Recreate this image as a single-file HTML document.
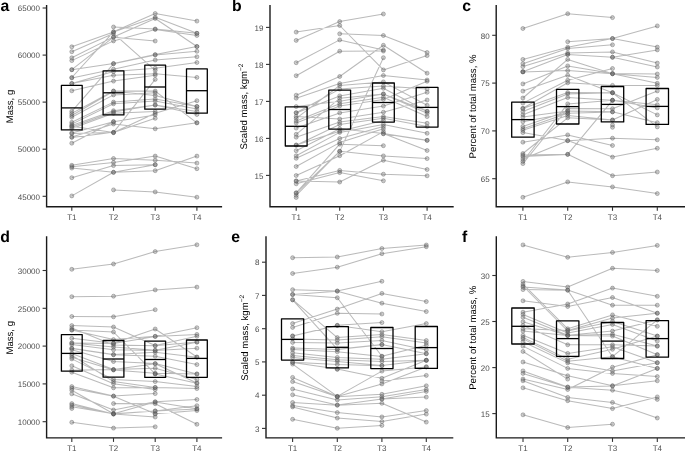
<!DOCTYPE html><html><head><meta charset="utf-8"><style>html,body{margin:0;padding:0;background:#fff;}svg{display:block;will-change:transform;}</style></head><body>
<svg width="685" height="451" viewBox="0 0 685 451" font-family="Liberation Sans, sans-serif" text-rendering="geometricPrecision">
<rect width="685" height="451" fill="#fff"/>
<path d="M71.8 46.8L113.5 32.0M71.8 51.7L113.5 33.4M71.8 57.8L113.5 36.9M71.8 60.6L113.5 40.9M71.8 69.7L113.5 37.2M71.8 69.7L113.5 63.5M71.8 77.5L113.5 31.8M71.8 77.9L113.5 69.2M71.8 83.4L113.5 71.6M71.8 83.6L113.5 75.3M71.8 90.8L113.5 81.1M71.8 111.3L113.5 63.8M71.8 113.4L113.5 91.0M71.8 115.5L113.5 91.2M71.8 117.2L113.5 94.9M71.8 122.3L113.5 102.1M71.8 124.1L113.5 103.8M71.8 125.6L113.5 110.7M71.8 127.1L113.5 111.9M71.8 128.5L113.5 113.3M71.8 132.9L113.5 121.7M71.8 137.0L113.5 124.0M71.8 137.4L113.5 132.3M71.8 143.2L113.5 121.7M71.8 126.3L113.5 132.6M71.8 133.5L113.5 132.6M71.8 165.3L113.5 158.5M71.8 166.7L113.5 162.4M71.8 168.1L113.5 172.3M71.8 177.7L113.5 165.6M71.8 195.9L113.5 172.3M113.5 27.0L155.2 29.0M113.5 31.8L155.2 13.5M113.5 32.0L155.2 17.2M113.5 33.4L155.2 70.3M113.5 36.9L155.2 18.5M113.5 37.2L155.2 41.0M113.5 40.9L155.2 29.4M113.5 63.5L155.2 54.6M113.5 63.8L155.2 55.0M113.5 69.2L155.2 60.0M113.5 71.6L155.2 68.3M113.5 75.3L155.2 73.8M113.5 81.1L155.2 75.2M113.5 91.0L155.2 91.1M113.5 91.2L155.2 95.5M113.5 94.9L155.2 92.8M113.5 102.1L155.2 98.9M113.5 103.8L155.2 101.1M113.5 110.7L155.2 105.0M113.5 111.9L155.2 105.0M113.5 113.3L155.2 111.6M113.5 121.7L155.2 114.9M113.5 124.0L155.2 128.8M113.5 132.3L155.2 79.4M113.5 132.6L155.2 113.3M113.5 132.6L155.2 118.3M113.5 158.5L155.2 160.2M113.5 162.4L155.2 156.1M113.5 165.6L155.2 164.7M113.5 172.3L155.2 164.7M113.5 172.3L155.2 170.7M113.5 189.9L155.2 191.9M155.2 13.5L196.9 21.1M155.2 17.2L196.9 33.3M155.2 18.5L196.9 46.5M155.2 29.0L196.9 33.3M155.2 29.4L196.9 35.5M155.2 54.6L196.9 46.5M155.2 55.0L196.9 51.3M155.2 60.0L196.9 56.8M155.2 68.3L196.9 62.5M155.2 73.8L196.9 77.4M155.2 91.1L196.9 122.8M155.2 95.5L196.9 106.5M155.2 98.9L196.9 106.5M155.2 101.1L196.9 109.0M155.2 105.0L196.9 111.5M155.2 105.0L196.9 114.5M155.2 113.3L196.9 100.7M155.2 128.8L196.9 122.8M155.2 156.1L196.9 168.7M155.2 160.2L196.9 163.1M155.2 170.7L196.9 156.1M155.2 191.9L196.9 197.2" fill="none" stroke="#666" stroke-opacity="0.45" stroke-width="1.05"/>
<g fill="#555" fill-opacity="0.3" stroke="#555" stroke-opacity="0.42" stroke-width="0.9"><circle cx="71.8" cy="46.8" r="2.0"/><circle cx="71.8" cy="51.7" r="2.0"/><circle cx="71.8" cy="57.8" r="2.0"/><circle cx="71.8" cy="60.6" r="2.0"/><circle cx="71.8" cy="69.7" r="2.0"/><circle cx="71.8" cy="69.7" r="2.0"/><circle cx="71.8" cy="77.5" r="2.0"/><circle cx="71.8" cy="77.9" r="2.0"/><circle cx="71.8" cy="83.4" r="2.0"/><circle cx="71.8" cy="83.6" r="2.0"/><circle cx="71.8" cy="90.8" r="2.0"/><circle cx="71.8" cy="111.3" r="2.0"/><circle cx="71.8" cy="113.4" r="2.0"/><circle cx="71.8" cy="115.5" r="2.0"/><circle cx="71.8" cy="117.2" r="2.0"/><circle cx="71.8" cy="122.3" r="2.0"/><circle cx="71.8" cy="124.1" r="2.0"/><circle cx="71.8" cy="125.6" r="2.0"/><circle cx="71.8" cy="126.3" r="2.0"/><circle cx="71.8" cy="127.1" r="2.0"/><circle cx="71.8" cy="128.5" r="2.0"/><circle cx="71.8" cy="132.9" r="2.0"/><circle cx="71.8" cy="133.5" r="2.0"/><circle cx="71.8" cy="137.0" r="2.0"/><circle cx="71.8" cy="137.4" r="2.0"/><circle cx="71.8" cy="143.2" r="2.0"/><circle cx="71.8" cy="165.3" r="2.0"/><circle cx="71.8" cy="166.7" r="2.0"/><circle cx="71.8" cy="168.1" r="2.0"/><circle cx="71.8" cy="177.7" r="2.0"/><circle cx="71.8" cy="195.9" r="2.0"/><circle cx="113.5" cy="27.0" r="2.0"/><circle cx="113.5" cy="31.8" r="2.0"/><circle cx="113.5" cy="32.0" r="2.0"/><circle cx="113.5" cy="33.4" r="2.0"/><circle cx="113.5" cy="36.9" r="2.0"/><circle cx="113.5" cy="37.2" r="2.0"/><circle cx="113.5" cy="40.9" r="2.0"/><circle cx="113.5" cy="63.5" r="2.0"/><circle cx="113.5" cy="63.8" r="2.0"/><circle cx="113.5" cy="69.2" r="2.0"/><circle cx="113.5" cy="71.6" r="2.0"/><circle cx="113.5" cy="75.3" r="2.0"/><circle cx="113.5" cy="81.1" r="2.0"/><circle cx="113.5" cy="91.0" r="2.0"/><circle cx="113.5" cy="91.2" r="2.0"/><circle cx="113.5" cy="94.9" r="2.0"/><circle cx="113.5" cy="102.1" r="2.0"/><circle cx="113.5" cy="103.8" r="2.0"/><circle cx="113.5" cy="110.7" r="2.0"/><circle cx="113.5" cy="111.9" r="2.0"/><circle cx="113.5" cy="113.3" r="2.0"/><circle cx="113.5" cy="121.7" r="2.0"/><circle cx="113.5" cy="121.7" r="2.0"/><circle cx="113.5" cy="124.0" r="2.0"/><circle cx="113.5" cy="132.3" r="2.0"/><circle cx="113.5" cy="132.6" r="2.0"/><circle cx="113.5" cy="132.6" r="2.0"/><circle cx="113.5" cy="158.5" r="2.0"/><circle cx="113.5" cy="162.4" r="2.0"/><circle cx="113.5" cy="165.6" r="2.0"/><circle cx="113.5" cy="172.3" r="2.0"/><circle cx="113.5" cy="172.3" r="2.0"/><circle cx="113.5" cy="189.9" r="2.0"/><circle cx="155.2" cy="13.5" r="2.0"/><circle cx="155.2" cy="17.2" r="2.0"/><circle cx="155.2" cy="18.5" r="2.0"/><circle cx="155.2" cy="29.0" r="2.0"/><circle cx="155.2" cy="29.4" r="2.0"/><circle cx="155.2" cy="41.0" r="2.0"/><circle cx="155.2" cy="54.6" r="2.0"/><circle cx="155.2" cy="55.0" r="2.0"/><circle cx="155.2" cy="60.0" r="2.0"/><circle cx="155.2" cy="68.3" r="2.0"/><circle cx="155.2" cy="70.3" r="2.0"/><circle cx="155.2" cy="73.8" r="2.0"/><circle cx="155.2" cy="75.2" r="2.0"/><circle cx="155.2" cy="79.4" r="2.0"/><circle cx="155.2" cy="91.1" r="2.0"/><circle cx="155.2" cy="92.8" r="2.0"/><circle cx="155.2" cy="95.5" r="2.0"/><circle cx="155.2" cy="98.9" r="2.0"/><circle cx="155.2" cy="101.1" r="2.0"/><circle cx="155.2" cy="105.0" r="2.0"/><circle cx="155.2" cy="105.0" r="2.0"/><circle cx="155.2" cy="111.6" r="2.0"/><circle cx="155.2" cy="113.3" r="2.0"/><circle cx="155.2" cy="114.9" r="2.0"/><circle cx="155.2" cy="118.3" r="2.0"/><circle cx="155.2" cy="128.8" r="2.0"/><circle cx="155.2" cy="156.1" r="2.0"/><circle cx="155.2" cy="160.2" r="2.0"/><circle cx="155.2" cy="164.7" r="2.0"/><circle cx="155.2" cy="164.7" r="2.0"/><circle cx="155.2" cy="170.7" r="2.0"/><circle cx="155.2" cy="191.9" r="2.0"/><circle cx="196.9" cy="21.1" r="2.0"/><circle cx="196.9" cy="33.3" r="2.0"/><circle cx="196.9" cy="33.3" r="2.0"/><circle cx="196.9" cy="35.5" r="2.0"/><circle cx="196.9" cy="46.5" r="2.0"/><circle cx="196.9" cy="46.5" r="2.0"/><circle cx="196.9" cy="51.3" r="2.0"/><circle cx="196.9" cy="56.8" r="2.0"/><circle cx="196.9" cy="62.5" r="2.0"/><circle cx="196.9" cy="77.4" r="2.0"/><circle cx="196.9" cy="100.7" r="2.0"/><circle cx="196.9" cy="106.5" r="2.0"/><circle cx="196.9" cy="106.5" r="2.0"/><circle cx="196.9" cy="109.0" r="2.0"/><circle cx="196.9" cy="111.5" r="2.0"/><circle cx="196.9" cy="114.5" r="2.0"/><circle cx="196.9" cy="122.8" r="2.0"/><circle cx="196.9" cy="122.8" r="2.0"/><circle cx="196.9" cy="156.1" r="2.0"/><circle cx="196.9" cy="163.1" r="2.0"/><circle cx="196.9" cy="168.7" r="2.0"/><circle cx="196.9" cy="197.2" r="2.0"/></g>
<rect x="61.4" y="85.4" width="20.8" height="44.5" fill="none" stroke="#000" stroke-width="1.3" stroke-linejoin="round"/>
<line x1="61.4" x2="82.2" y1="107.9" y2="107.9" stroke="#000" stroke-width="1.3"/>
<rect x="103.1" y="70.8" width="20.8" height="44.1" fill="none" stroke="#000" stroke-width="1.3" stroke-linejoin="round"/>
<line x1="103.1" x2="123.9" y1="92.8" y2="92.8" stroke="#000" stroke-width="1.3"/>
<rect x="144.8" y="65.2" width="20.8" height="44.0" fill="none" stroke="#000" stroke-width="1.3" stroke-linejoin="round"/>
<line x1="144.8" x2="165.6" y1="87.0" y2="87.0" stroke="#000" stroke-width="1.3"/>
<rect x="186.5" y="68.8" width="20.8" height="44.4" fill="none" stroke="#000" stroke-width="1.3" stroke-linejoin="round"/>
<line x1="186.5" x2="207.3" y1="90.7" y2="90.7" stroke="#000" stroke-width="1.3"/>
<path d="M46.6 5.6 V206.8 H221.4" fill="none" stroke="#1a1a1a" stroke-width="1.4" stroke-linecap="square" stroke-linejoin="miter"/>
<line x1="42.6" x2="46.6" y1="196.3" y2="196.3" stroke="#333" stroke-width="1.1"/>
<text x="40.0" y="199.5" font-size="8" fill="#4d4d4d" text-anchor="end">45000</text>
<line x1="42.6" x2="46.6" y1="149.2" y2="149.2" stroke="#333" stroke-width="1.1"/>
<text x="40.0" y="152.4" font-size="8" fill="#4d4d4d" text-anchor="end">50000</text>
<line x1="42.6" x2="46.6" y1="102.1" y2="102.1" stroke="#333" stroke-width="1.1"/>
<text x="40.0" y="105.3" font-size="8" fill="#4d4d4d" text-anchor="end">55000</text>
<line x1="42.6" x2="46.6" y1="55.1" y2="55.1" stroke="#333" stroke-width="1.1"/>
<text x="40.0" y="58.3" font-size="8" fill="#4d4d4d" text-anchor="end">60000</text>
<line x1="42.6" x2="46.6" y1="8.0" y2="8.0" stroke="#333" stroke-width="1.1"/>
<text x="40.0" y="11.2" font-size="8" fill="#4d4d4d" text-anchor="end">65000</text>
<line x1="71.8" x2="71.8" y1="206.8" y2="210.8" stroke="#333" stroke-width="1.1"/>
<text x="71.8" y="219.6" font-size="8" fill="#4d4d4d" text-anchor="middle">T1</text>
<line x1="113.5" x2="113.5" y1="206.8" y2="210.8" stroke="#333" stroke-width="1.1"/>
<text x="113.5" y="219.6" font-size="8" fill="#4d4d4d" text-anchor="middle">T2</text>
<line x1="155.2" x2="155.2" y1="206.8" y2="210.8" stroke="#333" stroke-width="1.1"/>
<text x="155.2" y="219.6" font-size="8" fill="#4d4d4d" text-anchor="middle">T3</text>
<line x1="196.9" x2="196.9" y1="206.8" y2="210.8" stroke="#333" stroke-width="1.1"/>
<text x="196.9" y="219.6" font-size="8" fill="#4d4d4d" text-anchor="middle">T4</text>
<text transform="translate(13.1,106.5) rotate(-90)" text-anchor="middle" font-size="9.6" fill="#000">Mass, g</text>
<text x="0.6" y="11.0" font-size="15.8" font-weight="bold" fill="#000">a</text>
<path d="M296.2 32.1L339.7 25.5M296.2 40.4L339.7 21.6M296.2 62.7L339.7 39.9M296.2 75.7L339.7 51.2M296.2 95.2L339.7 76.5M296.2 98.2L339.7 83.6M296.2 106.6L339.7 101.3M296.2 112.7L339.7 89.1M296.2 112.9L339.7 95.9M296.2 116.5L339.7 119.0M296.2 118.3L339.7 85.5M296.2 121.0L339.7 103.8M296.2 123.0L339.7 105.9M296.2 128.1L339.7 112.9M296.2 134.3L339.7 98.3M296.2 137.2L339.7 122.1M296.2 145.0L339.7 131.2M296.2 145.2L339.7 124.5M296.2 150.7L339.7 128.8M296.2 155.8L339.7 132.4M296.2 158.3L339.7 138.5M296.2 166.5L339.7 142.6M296.2 175.5L339.7 155.7M296.2 180.9L339.7 182.0M296.2 181.1L339.7 170.4M296.2 183.8L339.7 172.6M296.2 192.8L339.7 144.2M296.2 193.0L339.7 151.4M296.2 195.3L339.7 151.3M339.7 21.6L383.4 14.0M339.7 25.5L383.4 69.9M339.7 33.8L383.4 35.5M339.7 39.9L383.4 50.0M339.7 51.2L383.4 51.1M339.7 76.5L383.4 45.3M339.7 151.4L383.4 57.7M339.7 151.3L383.4 155.9M339.7 128.8L383.4 133.6M339.7 170.4L383.4 174.2M339.7 172.6L383.4 180.8M339.7 182.0L383.4 160.3M339.7 144.2L383.4 145.7M339.7 83.6L383.4 75.5M339.7 85.5L383.4 81.9M339.7 89.1L383.4 86.0M339.7 95.9L383.4 88.3M339.7 98.3L383.4 93.9M339.7 101.3L383.4 94.1M339.7 103.8L383.4 97.2M339.7 105.9L383.4 99.4M339.7 112.9L383.4 106.1M339.7 119.0L383.4 112.2M339.7 122.1L383.4 116.6M339.7 124.5L383.4 118.3M339.7 131.2L383.4 120.5M339.7 132.4L383.4 124.4M339.7 138.5L383.4 126.6M339.7 142.6L383.4 128.8M339.7 155.7L383.4 131.6M383.4 35.5L427.1 52.5M383.4 45.3L427.1 73.2M383.4 69.9L427.1 55.6M383.4 75.5L427.1 80.0M383.4 81.9L427.1 105.3M383.4 86.0L427.1 89.0M383.4 88.3L427.1 111.3M383.4 93.9L427.1 111.3M383.4 94.1L427.1 113.3M383.4 97.2L427.1 116.6M383.4 99.4L427.1 81.3M383.4 106.1L427.1 92.3M383.4 112.2L427.1 100.0M383.4 116.6L427.1 123.3M383.4 118.3L427.1 126.6M383.4 124.4L427.1 133.3M383.4 133.6L427.1 140.3M383.4 133.6L427.1 150.5M383.4 133.8L427.1 140.4M383.4 155.9L427.1 158.6M383.4 160.3L427.1 169.5M383.4 174.2L427.1 175.8" fill="none" stroke="#666" stroke-opacity="0.45" stroke-width="1.05"/>
<g fill="#555" fill-opacity="0.3" stroke="#555" stroke-opacity="0.42" stroke-width="0.9"><circle cx="296.2" cy="32.1" r="2.0"/><circle cx="296.2" cy="40.4" r="2.0"/><circle cx="296.2" cy="62.7" r="2.0"/><circle cx="296.2" cy="75.7" r="2.0"/><circle cx="296.2" cy="95.2" r="2.0"/><circle cx="296.2" cy="98.2" r="2.0"/><circle cx="296.2" cy="106.6" r="2.0"/><circle cx="296.2" cy="112.7" r="2.0"/><circle cx="296.2" cy="112.9" r="2.0"/><circle cx="296.2" cy="116.5" r="2.0"/><circle cx="296.2" cy="118.3" r="2.0"/><circle cx="296.2" cy="121.0" r="2.0"/><circle cx="296.2" cy="123.0" r="2.0"/><circle cx="296.2" cy="128.1" r="2.0"/><circle cx="296.2" cy="134.3" r="2.0"/><circle cx="296.2" cy="137.2" r="2.0"/><circle cx="296.2" cy="145.0" r="2.0"/><circle cx="296.2" cy="145.2" r="2.0"/><circle cx="296.2" cy="150.7" r="2.0"/><circle cx="296.2" cy="155.8" r="2.0"/><circle cx="296.2" cy="158.3" r="2.0"/><circle cx="296.2" cy="166.5" r="2.0"/><circle cx="296.2" cy="175.5" r="2.0"/><circle cx="296.2" cy="180.9" r="2.0"/><circle cx="296.2" cy="181.1" r="2.0"/><circle cx="296.2" cy="183.8" r="2.0"/><circle cx="296.2" cy="192.8" r="2.0"/><circle cx="296.2" cy="193.0" r="2.0"/><circle cx="296.2" cy="195.3" r="2.0"/><circle cx="296.2" cy="197.5" r="2.0"/><circle cx="339.7" cy="21.6" r="2.0"/><circle cx="339.7" cy="25.5" r="2.0"/><circle cx="339.7" cy="33.8" r="2.0"/><circle cx="339.7" cy="39.9" r="2.0"/><circle cx="339.7" cy="51.2" r="2.0"/><circle cx="339.7" cy="76.5" r="2.0"/><circle cx="339.7" cy="83.6" r="2.0"/><circle cx="339.7" cy="85.5" r="2.0"/><circle cx="339.7" cy="89.1" r="2.0"/><circle cx="339.7" cy="95.9" r="2.0"/><circle cx="339.7" cy="98.3" r="2.0"/><circle cx="339.7" cy="101.3" r="2.0"/><circle cx="339.7" cy="103.8" r="2.0"/><circle cx="339.7" cy="105.9" r="2.0"/><circle cx="339.7" cy="112.9" r="2.0"/><circle cx="339.7" cy="119.0" r="2.0"/><circle cx="339.7" cy="122.1" r="2.0"/><circle cx="339.7" cy="124.5" r="2.0"/><circle cx="339.7" cy="128.8" r="2.0"/><circle cx="339.7" cy="131.2" r="2.0"/><circle cx="339.7" cy="132.4" r="2.0"/><circle cx="339.7" cy="138.5" r="2.0"/><circle cx="339.7" cy="142.6" r="2.0"/><circle cx="339.7" cy="144.2" r="2.0"/><circle cx="339.7" cy="151.3" r="2.0"/><circle cx="339.7" cy="151.4" r="2.0"/><circle cx="339.7" cy="155.7" r="2.0"/><circle cx="339.7" cy="170.4" r="2.0"/><circle cx="339.7" cy="172.6" r="2.0"/><circle cx="339.7" cy="182.0" r="2.0"/><circle cx="383.4" cy="14.0" r="2.0"/><circle cx="383.4" cy="35.5" r="2.0"/><circle cx="383.4" cy="45.3" r="2.0"/><circle cx="383.4" cy="50.0" r="2.0"/><circle cx="383.4" cy="51.1" r="2.0"/><circle cx="383.4" cy="57.7" r="2.0"/><circle cx="383.4" cy="69.9" r="2.0"/><circle cx="383.4" cy="75.5" r="2.0"/><circle cx="383.4" cy="81.9" r="2.0"/><circle cx="383.4" cy="86.0" r="2.0"/><circle cx="383.4" cy="88.3" r="2.0"/><circle cx="383.4" cy="93.9" r="2.0"/><circle cx="383.4" cy="94.1" r="2.0"/><circle cx="383.4" cy="97.2" r="2.0"/><circle cx="383.4" cy="99.4" r="2.0"/><circle cx="383.4" cy="106.1" r="2.0"/><circle cx="383.4" cy="112.2" r="2.0"/><circle cx="383.4" cy="116.6" r="2.0"/><circle cx="383.4" cy="118.3" r="2.0"/><circle cx="383.4" cy="120.5" r="2.0"/><circle cx="383.4" cy="124.4" r="2.0"/><circle cx="383.4" cy="126.6" r="2.0"/><circle cx="383.4" cy="128.8" r="2.0"/><circle cx="383.4" cy="131.6" r="2.0"/><circle cx="383.4" cy="133.6" r="2.0"/><circle cx="383.4" cy="133.8" r="2.0"/><circle cx="383.4" cy="145.7" r="2.0"/><circle cx="383.4" cy="155.9" r="2.0"/><circle cx="383.4" cy="160.3" r="2.0"/><circle cx="383.4" cy="174.2" r="2.0"/><circle cx="383.4" cy="180.8" r="2.0"/><circle cx="427.1" cy="52.5" r="2.0"/><circle cx="427.1" cy="55.6" r="2.0"/><circle cx="427.1" cy="73.2" r="2.0"/><circle cx="427.1" cy="80.0" r="2.0"/><circle cx="427.1" cy="81.3" r="2.0"/><circle cx="427.1" cy="89.0" r="2.0"/><circle cx="427.1" cy="92.3" r="2.0"/><circle cx="427.1" cy="100.0" r="2.0"/><circle cx="427.1" cy="105.3" r="2.0"/><circle cx="427.1" cy="111.3" r="2.0"/><circle cx="427.1" cy="111.3" r="2.0"/><circle cx="427.1" cy="113.3" r="2.0"/><circle cx="427.1" cy="116.6" r="2.0"/><circle cx="427.1" cy="123.3" r="2.0"/><circle cx="427.1" cy="126.6" r="2.0"/><circle cx="427.1" cy="133.3" r="2.0"/><circle cx="427.1" cy="140.3" r="2.0"/><circle cx="427.1" cy="140.4" r="2.0"/><circle cx="427.1" cy="150.5" r="2.0"/><circle cx="427.1" cy="158.6" r="2.0"/><circle cx="427.1" cy="169.5" r="2.0"/><circle cx="427.1" cy="175.8" r="2.0"/></g>
<rect x="285.3" y="106.8" width="21.8" height="39.2" fill="none" stroke="#000" stroke-width="1.3" stroke-linejoin="round"/>
<line x1="285.3" x2="307.1" y1="126.3" y2="126.3" stroke="#000" stroke-width="1.3"/>
<rect x="328.8" y="90.1" width="21.8" height="39.0" fill="none" stroke="#000" stroke-width="1.3" stroke-linejoin="round"/>
<line x1="328.8" x2="350.6" y1="109.5" y2="109.5" stroke="#000" stroke-width="1.3"/>
<rect x="372.5" y="83.0" width="21.8" height="39.1" fill="none" stroke="#000" stroke-width="1.3" stroke-linejoin="round"/>
<line x1="372.5" x2="394.3" y1="102.5" y2="102.5" stroke="#000" stroke-width="1.3"/>
<rect x="416.2" y="87.4" width="21.8" height="39.7" fill="none" stroke="#000" stroke-width="1.3" stroke-linejoin="round"/>
<line x1="416.2" x2="438.0" y1="107.4" y2="107.4" stroke="#000" stroke-width="1.3"/>
<path d="M270.0 5.6 V206.8 H453.0" fill="none" stroke="#1a1a1a" stroke-width="1.4" stroke-linecap="square" stroke-linejoin="miter"/>
<line x1="266.0" x2="270.0" y1="175.4" y2="175.4" stroke="#333" stroke-width="1.1"/>
<text x="263.4" y="178.6" font-size="8" fill="#4d4d4d" text-anchor="end">15</text>
<line x1="266.0" x2="270.0" y1="138.4" y2="138.4" stroke="#333" stroke-width="1.1"/>
<text x="263.4" y="141.6" font-size="8" fill="#4d4d4d" text-anchor="end">16</text>
<line x1="266.0" x2="270.0" y1="101.4" y2="101.4" stroke="#333" stroke-width="1.1"/>
<text x="263.4" y="104.6" font-size="8" fill="#4d4d4d" text-anchor="end">17</text>
<line x1="266.0" x2="270.0" y1="64.4" y2="64.4" stroke="#333" stroke-width="1.1"/>
<text x="263.4" y="67.6" font-size="8" fill="#4d4d4d" text-anchor="end">18</text>
<line x1="266.0" x2="270.0" y1="27.4" y2="27.4" stroke="#333" stroke-width="1.1"/>
<text x="263.4" y="30.6" font-size="8" fill="#4d4d4d" text-anchor="end">19</text>
<line x1="296.2" x2="296.2" y1="206.8" y2="210.8" stroke="#333" stroke-width="1.1"/>
<text x="296.2" y="219.6" font-size="8" fill="#4d4d4d" text-anchor="middle">T1</text>
<line x1="339.7" x2="339.7" y1="206.8" y2="210.8" stroke="#333" stroke-width="1.1"/>
<text x="339.7" y="219.6" font-size="8" fill="#4d4d4d" text-anchor="middle">T2</text>
<line x1="383.4" x2="383.4" y1="206.8" y2="210.8" stroke="#333" stroke-width="1.1"/>
<text x="383.4" y="219.6" font-size="8" fill="#4d4d4d" text-anchor="middle">T3</text>
<line x1="427.1" x2="427.1" y1="206.8" y2="210.8" stroke="#333" stroke-width="1.1"/>
<text x="427.1" y="219.6" font-size="8" fill="#4d4d4d" text-anchor="middle">T4</text>
<text transform="translate(247.3,106.5) rotate(-90)" text-anchor="middle" font-size="9.6" fill="#000">Scaled mass, kgm<tspan dy="-4" font-size="6.5">−2</tspan></text>
<text x="232.0" y="11.0" font-size="15.8" font-weight="bold" fill="#000">b</text>
<path d="M522.9 28.5L567.7 13.7M522.9 59.4L567.7 47.2M522.9 63.7L567.7 48.6M522.9 66.6L567.7 52.9M522.9 71.7L567.7 54.4M522.9 71.8L567.7 54.4M522.9 71.9L567.7 70.6M522.9 83.9L567.7 65.9M522.9 91.1L567.7 75.3M522.9 98.0L567.7 59.4M522.9 103.1L567.7 80.3M522.9 108.3L567.7 82.8M522.9 108.6L567.7 92.6M522.9 111.6L567.7 94.0M522.9 114.7L567.7 97.6M522.9 117.1L567.7 110.9M522.9 121.7L567.7 113.2M522.9 126.4L567.7 110.9M522.9 128.7L567.7 113.2M522.9 130.3L567.7 115.5M522.9 132.6L567.7 140.6M522.9 142.2L567.7 134.9M522.9 153.5L567.7 117.8M522.9 155.1L567.7 154.3M522.9 156.6L567.7 154.4M522.9 159.0L567.7 140.7M522.9 161.3L567.7 103.9M522.9 163.6L567.7 108.5M522.9 197.3L567.7 181.9M567.7 13.7L612.5 17.6M567.7 41.7L612.5 38.5M567.7 47.2L612.5 38.6M567.7 48.6L612.5 44.8M567.7 52.9L612.5 51.9M567.7 54.4L612.5 57.2M567.7 59.4L612.5 73.8M567.7 65.9L612.5 73.6M567.7 70.6L612.5 73.7M567.7 75.3L612.5 92.7M567.7 54.4L612.5 57.3M567.7 80.3L612.5 68.5M567.7 82.8L612.5 85.4M567.7 92.6L612.5 92.7M567.7 94.0L612.5 92.8M567.7 97.6L612.5 100.2M567.7 103.9L612.5 100.3M567.7 108.5L612.5 108.7M567.7 110.9L612.5 111.8M567.7 113.2L612.5 111.9M567.7 115.5L612.5 120.0M567.7 117.8L612.5 120.1M567.7 134.9L612.5 145.5M567.7 140.6L612.5 157.1M567.7 140.7L612.5 138.2M567.7 154.3L612.5 175.7M567.7 154.4L612.5 100.3M567.7 181.9L612.5 186.9M612.5 38.5L657.3 25.9M612.5 38.6L657.3 47.1M612.5 51.9L657.3 63.1M612.5 57.2L657.3 49.9M612.5 57.3L657.3 67.0M612.5 73.6L657.3 74.0M612.5 73.7L657.3 77.4M612.5 73.8L657.3 83.3M612.5 85.4L657.3 85.4M612.5 92.7L657.3 114.9M612.5 92.8L657.3 126.9M612.5 100.2L657.3 104.8M612.5 100.3L657.3 107.9M612.5 108.7L657.3 90.9M612.5 111.8L657.3 122.7M612.5 120.0L657.3 99.4M612.5 138.2L657.3 139.8M612.5 157.1L657.3 148.3M612.5 175.7L657.3 172.0M612.5 186.9L657.3 193.6" fill="none" stroke="#666" stroke-opacity="0.45" stroke-width="1.05"/>
<g fill="#555" fill-opacity="0.3" stroke="#555" stroke-opacity="0.42" stroke-width="0.9"><circle cx="522.9" cy="28.5" r="2.0"/><circle cx="522.9" cy="59.4" r="2.0"/><circle cx="522.9" cy="63.7" r="2.0"/><circle cx="522.9" cy="66.6" r="2.0"/><circle cx="522.9" cy="71.7" r="2.0"/><circle cx="522.9" cy="71.8" r="2.0"/><circle cx="522.9" cy="71.9" r="2.0"/><circle cx="522.9" cy="83.9" r="2.0"/><circle cx="522.9" cy="91.1" r="2.0"/><circle cx="522.9" cy="98.0" r="2.0"/><circle cx="522.9" cy="103.1" r="2.0"/><circle cx="522.9" cy="108.3" r="2.0"/><circle cx="522.9" cy="108.6" r="2.0"/><circle cx="522.9" cy="111.6" r="2.0"/><circle cx="522.9" cy="114.7" r="2.0"/><circle cx="522.9" cy="117.1" r="2.0"/><circle cx="522.9" cy="121.7" r="2.0"/><circle cx="522.9" cy="126.4" r="2.0"/><circle cx="522.9" cy="128.7" r="2.0"/><circle cx="522.9" cy="130.3" r="2.0"/><circle cx="522.9" cy="132.6" r="2.0"/><circle cx="522.9" cy="142.2" r="2.0"/><circle cx="522.9" cy="153.5" r="2.0"/><circle cx="522.9" cy="155.1" r="2.0"/><circle cx="522.9" cy="156.6" r="2.0"/><circle cx="522.9" cy="159.0" r="2.0"/><circle cx="522.9" cy="161.3" r="2.0"/><circle cx="522.9" cy="163.6" r="2.0"/><circle cx="522.9" cy="197.3" r="2.0"/><circle cx="567.7" cy="13.7" r="2.0"/><circle cx="567.7" cy="41.7" r="2.0"/><circle cx="567.7" cy="47.2" r="2.0"/><circle cx="567.7" cy="48.6" r="2.0"/><circle cx="567.7" cy="52.9" r="2.0"/><circle cx="567.7" cy="54.4" r="2.0"/><circle cx="567.7" cy="54.4" r="2.0"/><circle cx="567.7" cy="59.4" r="2.0"/><circle cx="567.7" cy="65.9" r="2.0"/><circle cx="567.7" cy="70.6" r="2.0"/><circle cx="567.7" cy="75.3" r="2.0"/><circle cx="567.7" cy="80.3" r="2.0"/><circle cx="567.7" cy="82.8" r="2.0"/><circle cx="567.7" cy="92.6" r="2.0"/><circle cx="567.7" cy="94.0" r="2.0"/><circle cx="567.7" cy="97.6" r="2.0"/><circle cx="567.7" cy="103.9" r="2.0"/><circle cx="567.7" cy="108.5" r="2.0"/><circle cx="567.7" cy="110.9" r="2.0"/><circle cx="567.7" cy="110.9" r="2.0"/><circle cx="567.7" cy="113.2" r="2.0"/><circle cx="567.7" cy="113.2" r="2.0"/><circle cx="567.7" cy="115.5" r="2.0"/><circle cx="567.7" cy="117.8" r="2.0"/><circle cx="567.7" cy="134.9" r="2.0"/><circle cx="567.7" cy="140.6" r="2.0"/><circle cx="567.7" cy="140.7" r="2.0"/><circle cx="567.7" cy="154.3" r="2.0"/><circle cx="567.7" cy="154.4" r="2.0"/><circle cx="567.7" cy="181.9" r="2.0"/><circle cx="612.5" cy="17.6" r="2.0"/><circle cx="612.5" cy="38.5" r="2.0"/><circle cx="612.5" cy="38.6" r="2.0"/><circle cx="612.5" cy="44.8" r="2.0"/><circle cx="612.5" cy="51.9" r="2.0"/><circle cx="612.5" cy="57.2" r="2.0"/><circle cx="612.5" cy="57.3" r="2.0"/><circle cx="612.5" cy="68.5" r="2.0"/><circle cx="612.5" cy="73.6" r="2.0"/><circle cx="612.5" cy="73.7" r="2.0"/><circle cx="612.5" cy="73.8" r="2.0"/><circle cx="612.5" cy="85.4" r="2.0"/><circle cx="612.5" cy="92.7" r="2.0"/><circle cx="612.5" cy="92.7" r="2.0"/><circle cx="612.5" cy="92.8" r="2.0"/><circle cx="612.5" cy="100.2" r="2.0"/><circle cx="612.5" cy="100.3" r="2.0"/><circle cx="612.5" cy="100.3" r="2.0"/><circle cx="612.5" cy="108.7" r="2.0"/><circle cx="612.5" cy="111.8" r="2.0"/><circle cx="612.5" cy="111.9" r="2.0"/><circle cx="612.5" cy="120.0" r="2.0"/><circle cx="612.5" cy="120.1" r="2.0"/><circle cx="612.5" cy="125.0" r="2.0"/><circle cx="612.5" cy="127.3" r="2.0"/><circle cx="612.5" cy="138.2" r="2.0"/><circle cx="612.5" cy="145.5" r="2.0"/><circle cx="612.5" cy="157.1" r="2.0"/><circle cx="612.5" cy="175.7" r="2.0"/><circle cx="612.5" cy="186.9" r="2.0"/><circle cx="657.3" cy="25.9" r="2.0"/><circle cx="657.3" cy="47.1" r="2.0"/><circle cx="657.3" cy="49.9" r="2.0"/><circle cx="657.3" cy="63.1" r="2.0"/><circle cx="657.3" cy="67.0" r="2.0"/><circle cx="657.3" cy="74.0" r="2.0"/><circle cx="657.3" cy="77.4" r="2.0"/><circle cx="657.3" cy="83.3" r="2.0"/><circle cx="657.3" cy="85.4" r="2.0"/><circle cx="657.3" cy="90.9" r="2.0"/><circle cx="657.3" cy="99.4" r="2.0"/><circle cx="657.3" cy="104.8" r="2.0"/><circle cx="657.3" cy="107.9" r="2.0"/><circle cx="657.3" cy="114.9" r="2.0"/><circle cx="657.3" cy="122.7" r="2.0"/><circle cx="657.3" cy="126.9" r="2.0"/><circle cx="657.3" cy="139.8" r="2.0"/><circle cx="657.3" cy="148.3" r="2.0"/><circle cx="657.3" cy="172.0" r="2.0"/><circle cx="657.3" cy="193.6" r="2.0"/></g>
<rect x="511.7" y="102.2" width="22.4" height="35.0" fill="none" stroke="#000" stroke-width="1.3" stroke-linejoin="round"/>
<line x1="511.7" x2="534.1" y1="119.6" y2="119.6" stroke="#000" stroke-width="1.3"/>
<rect x="556.5" y="89.4" width="22.4" height="34.6" fill="none" stroke="#000" stroke-width="1.3" stroke-linejoin="round"/>
<line x1="556.5" x2="578.9" y1="106.6" y2="106.6" stroke="#000" stroke-width="1.3"/>
<rect x="601.3" y="86.5" width="22.4" height="35.4" fill="none" stroke="#000" stroke-width="1.3" stroke-linejoin="round"/>
<line x1="601.3" x2="623.7" y1="104.4" y2="104.4" stroke="#000" stroke-width="1.3"/>
<rect x="646.1" y="88.5" width="22.4" height="35.9" fill="none" stroke="#000" stroke-width="1.3" stroke-linejoin="round"/>
<line x1="646.1" x2="668.5" y1="106.4" y2="106.4" stroke="#000" stroke-width="1.3"/>
<path d="M496.2 5.6 V206.8 H684.5" fill="none" stroke="#1a1a1a" stroke-width="1.4" stroke-linecap="square" stroke-linejoin="miter"/>
<line x1="492.2" x2="496.2" y1="178.7" y2="178.7" stroke="#333" stroke-width="1.1"/>
<text x="489.6" y="181.9" font-size="8" fill="#4d4d4d" text-anchor="end">65</text>
<line x1="492.2" x2="496.2" y1="130.9" y2="130.9" stroke="#333" stroke-width="1.1"/>
<text x="489.6" y="134.1" font-size="8" fill="#4d4d4d" text-anchor="end">70</text>
<line x1="492.2" x2="496.2" y1="83.1" y2="83.1" stroke="#333" stroke-width="1.1"/>
<text x="489.6" y="86.3" font-size="8" fill="#4d4d4d" text-anchor="end">75</text>
<line x1="492.2" x2="496.2" y1="35.3" y2="35.3" stroke="#333" stroke-width="1.1"/>
<text x="489.6" y="38.5" font-size="8" fill="#4d4d4d" text-anchor="end">80</text>
<line x1="522.9" x2="522.9" y1="206.8" y2="210.8" stroke="#333" stroke-width="1.1"/>
<text x="522.9" y="219.6" font-size="8" fill="#4d4d4d" text-anchor="middle">T1</text>
<line x1="567.7" x2="567.7" y1="206.8" y2="210.8" stroke="#333" stroke-width="1.1"/>
<text x="567.7" y="219.6" font-size="8" fill="#4d4d4d" text-anchor="middle">T2</text>
<line x1="612.5" x2="612.5" y1="206.8" y2="210.8" stroke="#333" stroke-width="1.1"/>
<text x="612.5" y="219.6" font-size="8" fill="#4d4d4d" text-anchor="middle">T3</text>
<line x1="657.3" x2="657.3" y1="206.8" y2="210.8" stroke="#333" stroke-width="1.1"/>
<text x="657.3" y="219.6" font-size="8" fill="#4d4d4d" text-anchor="middle">T4</text>
<text transform="translate(475.6,106.5) rotate(-90)" text-anchor="middle" font-size="9.6" fill="#000">Percent of total mass, %</text>
<text x="462.3" y="11.0" font-size="15.8" font-weight="bold" fill="#000">c</text>
<path d="M71.8 269.3L113.5 264.0M71.8 296.7L113.5 296.2M71.8 316.5L113.5 316.8M71.8 325.6L113.5 327.0M71.8 328.0L113.5 344.9M71.8 329.9L113.5 332.0M71.8 330.1L113.5 339.6M71.8 338.3L113.5 343.2M71.8 342.9L113.5 343.4M71.8 343.1L113.5 346.9M71.8 344.5L113.5 349.8M71.8 348.2L113.5 354.6M71.8 348.4L113.5 354.8M71.8 349.8L113.5 361.5M71.8 353.6L113.5 369.6M71.8 355.2L113.5 381.6M71.8 357.3L113.5 370.0M71.8 358.9L113.5 379.4M71.8 365.8L113.5 383.7M71.8 370.2L113.5 369.6M71.8 372.2L113.5 387.8M71.8 386.6L113.5 396.0M71.8 388.3L113.5 396.2M71.8 390.2L113.5 413.7M71.8 393.8L113.5 410.0M71.8 403.6L113.5 413.9M71.8 405.1L113.5 414.1M71.8 406.8L113.5 413.8M71.8 422.3L113.5 428.1M113.5 264.0L155.2 251.6M113.5 296.2L155.2 289.9M113.5 316.8L155.2 309.7M113.5 327.0L155.2 345.6M113.5 332.0L155.2 373.9M113.5 339.6L155.2 336.3M113.5 343.2L155.2 329.0M113.5 343.4L155.2 336.5M113.5 344.9L155.2 345.8M113.5 346.9L155.2 350.3M113.5 349.8L155.2 350.5M113.5 354.6L155.2 352.2M113.5 354.8L155.2 356.2M113.5 361.5L155.2 363.6M113.5 369.6L155.2 363.8M113.5 369.6L155.2 368.2M113.5 370.0L155.2 373.3M113.5 379.4L155.2 381.6M113.5 381.6L155.2 387.4M113.5 383.7L155.2 389.5M113.5 387.8L155.2 387.6M113.5 396.0L155.2 393.6M113.5 396.2L155.2 413.8M113.5 403.6L155.2 403.7M113.5 410.0L155.2 401.8M113.5 413.7L155.2 410.9M113.5 413.9L155.2 411.1M113.5 414.1L155.2 417.0M113.5 413.8L155.2 402.0M113.5 428.1L155.2 426.8M155.2 251.6L196.9 244.8M155.2 289.9L196.9 287.1M155.2 329.0L196.9 357.0M155.2 336.3L196.9 327.7M155.2 336.5L196.9 334.4M155.2 345.6L196.9 336.2M155.2 345.8L196.9 342.0M155.2 350.3L196.9 342.2M155.2 350.5L196.9 348.2M155.2 352.2L196.9 357.2M155.2 356.2L196.9 364.6M155.2 363.6L196.9 373.9M155.2 363.8L196.9 383.0M155.2 368.2L196.9 379.4M155.2 373.3L196.9 374.1M155.2 373.9L196.9 383.2M155.2 381.6L196.9 386.6M155.2 387.6L196.9 388.6M155.2 401.8L196.9 399.5M155.2 402.0L196.9 408.8M155.2 403.7L196.9 424.3M155.2 410.9L196.9 405.7M155.2 411.1L196.9 409.0M155.2 413.8L196.9 410.6" fill="none" stroke="#666" stroke-opacity="0.45" stroke-width="1.05"/>
<g fill="#555" fill-opacity="0.3" stroke="#555" stroke-opacity="0.42" stroke-width="0.9"><circle cx="71.8" cy="269.3" r="2.0"/><circle cx="71.8" cy="296.7" r="2.0"/><circle cx="71.8" cy="316.5" r="2.0"/><circle cx="71.8" cy="325.6" r="2.0"/><circle cx="71.8" cy="328.0" r="2.0"/><circle cx="71.8" cy="329.9" r="2.0"/><circle cx="71.8" cy="330.1" r="2.0"/><circle cx="71.8" cy="338.3" r="2.0"/><circle cx="71.8" cy="342.9" r="2.0"/><circle cx="71.8" cy="343.1" r="2.0"/><circle cx="71.8" cy="344.5" r="2.0"/><circle cx="71.8" cy="348.2" r="2.0"/><circle cx="71.8" cy="348.4" r="2.0"/><circle cx="71.8" cy="349.8" r="2.0"/><circle cx="71.8" cy="353.6" r="2.0"/><circle cx="71.8" cy="355.2" r="2.0"/><circle cx="71.8" cy="357.3" r="2.0"/><circle cx="71.8" cy="358.9" r="2.0"/><circle cx="71.8" cy="365.8" r="2.0"/><circle cx="71.8" cy="370.2" r="2.0"/><circle cx="71.8" cy="372.2" r="2.0"/><circle cx="71.8" cy="386.6" r="2.0"/><circle cx="71.8" cy="388.3" r="2.0"/><circle cx="71.8" cy="390.2" r="2.0"/><circle cx="71.8" cy="393.8" r="2.0"/><circle cx="71.8" cy="403.6" r="2.0"/><circle cx="71.8" cy="405.1" r="2.0"/><circle cx="71.8" cy="406.8" r="2.0"/><circle cx="71.8" cy="408.5" r="2.0"/><circle cx="71.8" cy="422.3" r="2.0"/><circle cx="113.5" cy="264.0" r="2.0"/><circle cx="113.5" cy="296.2" r="2.0"/><circle cx="113.5" cy="316.8" r="2.0"/><circle cx="113.5" cy="327.0" r="2.0"/><circle cx="113.5" cy="332.0" r="2.0"/><circle cx="113.5" cy="339.6" r="2.0"/><circle cx="113.5" cy="343.2" r="2.0"/><circle cx="113.5" cy="343.4" r="2.0"/><circle cx="113.5" cy="344.9" r="2.0"/><circle cx="113.5" cy="346.9" r="2.0"/><circle cx="113.5" cy="349.8" r="2.0"/><circle cx="113.5" cy="354.6" r="2.0"/><circle cx="113.5" cy="354.8" r="2.0"/><circle cx="113.5" cy="361.5" r="2.0"/><circle cx="113.5" cy="369.6" r="2.0"/><circle cx="113.5" cy="369.6" r="2.0"/><circle cx="113.5" cy="370.0" r="2.0"/><circle cx="113.5" cy="379.4" r="2.0"/><circle cx="113.5" cy="381.6" r="2.0"/><circle cx="113.5" cy="383.7" r="2.0"/><circle cx="113.5" cy="387.8" r="2.0"/><circle cx="113.5" cy="396.0" r="2.0"/><circle cx="113.5" cy="396.2" r="2.0"/><circle cx="113.5" cy="403.6" r="2.0"/><circle cx="113.5" cy="410.0" r="2.0"/><circle cx="113.5" cy="413.7" r="2.0"/><circle cx="113.5" cy="413.8" r="2.0"/><circle cx="113.5" cy="413.9" r="2.0"/><circle cx="113.5" cy="414.1" r="2.0"/><circle cx="113.5" cy="428.1" r="2.0"/><circle cx="155.2" cy="251.6" r="2.0"/><circle cx="155.2" cy="289.9" r="2.0"/><circle cx="155.2" cy="309.7" r="2.0"/><circle cx="155.2" cy="329.0" r="2.0"/><circle cx="155.2" cy="336.3" r="2.0"/><circle cx="155.2" cy="336.5" r="2.0"/><circle cx="155.2" cy="345.6" r="2.0"/><circle cx="155.2" cy="345.8" r="2.0"/><circle cx="155.2" cy="350.3" r="2.0"/><circle cx="155.2" cy="350.5" r="2.0"/><circle cx="155.2" cy="352.2" r="2.0"/><circle cx="155.2" cy="356.2" r="2.0"/><circle cx="155.2" cy="363.6" r="2.0"/><circle cx="155.2" cy="363.8" r="2.0"/><circle cx="155.2" cy="368.2" r="2.0"/><circle cx="155.2" cy="373.3" r="2.0"/><circle cx="155.2" cy="373.9" r="2.0"/><circle cx="155.2" cy="373.9" r="2.0"/><circle cx="155.2" cy="381.6" r="2.0"/><circle cx="155.2" cy="387.4" r="2.0"/><circle cx="155.2" cy="387.6" r="2.0"/><circle cx="155.2" cy="389.5" r="2.0"/><circle cx="155.2" cy="393.6" r="2.0"/><circle cx="155.2" cy="401.8" r="2.0"/><circle cx="155.2" cy="402.0" r="2.0"/><circle cx="155.2" cy="403.7" r="2.0"/><circle cx="155.2" cy="410.9" r="2.0"/><circle cx="155.2" cy="411.1" r="2.0"/><circle cx="155.2" cy="413.8" r="2.0"/><circle cx="155.2" cy="413.8" r="2.0"/><circle cx="155.2" cy="417.0" r="2.0"/><circle cx="155.2" cy="426.8" r="2.0"/><circle cx="196.9" cy="244.8" r="2.0"/><circle cx="196.9" cy="287.1" r="2.0"/><circle cx="196.9" cy="327.7" r="2.0"/><circle cx="196.9" cy="334.4" r="2.0"/><circle cx="196.9" cy="336.2" r="2.0"/><circle cx="196.9" cy="342.0" r="2.0"/><circle cx="196.9" cy="342.2" r="2.0"/><circle cx="196.9" cy="348.2" r="2.0"/><circle cx="196.9" cy="357.0" r="2.0"/><circle cx="196.9" cy="357.2" r="2.0"/><circle cx="196.9" cy="364.6" r="2.0"/><circle cx="196.9" cy="373.9" r="2.0"/><circle cx="196.9" cy="374.1" r="2.0"/><circle cx="196.9" cy="379.4" r="2.0"/><circle cx="196.9" cy="383.0" r="2.0"/><circle cx="196.9" cy="383.2" r="2.0"/><circle cx="196.9" cy="386.6" r="2.0"/><circle cx="196.9" cy="388.6" r="2.0"/><circle cx="196.9" cy="399.5" r="2.0"/><circle cx="196.9" cy="405.7" r="2.0"/><circle cx="196.9" cy="408.8" r="2.0"/><circle cx="196.9" cy="409.0" r="2.0"/><circle cx="196.9" cy="410.6" r="2.0"/><circle cx="196.9" cy="424.3" r="2.0"/></g>
<rect x="61.4" y="334.6" width="20.8" height="36.6" fill="none" stroke="#000" stroke-width="1.3" stroke-linejoin="round"/>
<line x1="61.4" x2="82.2" y1="353.4" y2="353.4" stroke="#000" stroke-width="1.3"/>
<rect x="103.1" y="340.5" width="20.8" height="36.7" fill="none" stroke="#000" stroke-width="1.3" stroke-linejoin="round"/>
<line x1="103.1" x2="123.9" y1="359.0" y2="359.0" stroke="#000" stroke-width="1.3"/>
<rect x="144.8" y="341.2" width="20.8" height="36.2" fill="none" stroke="#000" stroke-width="1.3" stroke-linejoin="round"/>
<line x1="144.8" x2="165.6" y1="359.5" y2="359.5" stroke="#000" stroke-width="1.3"/>
<rect x="186.5" y="340.0" width="20.8" height="37.3" fill="none" stroke="#000" stroke-width="1.3" stroke-linejoin="round"/>
<line x1="186.5" x2="207.3" y1="358.4" y2="358.4" stroke="#000" stroke-width="1.3"/>
<path d="M46.6 237.0 V437.9 H221.4" fill="none" stroke="#1a1a1a" stroke-width="1.4" stroke-linecap="square" stroke-linejoin="miter"/>
<line x1="42.6" x2="46.6" y1="421.7" y2="421.7" stroke="#333" stroke-width="1.1"/>
<text x="40.0" y="424.9" font-size="8" fill="#4d4d4d" text-anchor="end">10000</text>
<line x1="42.6" x2="46.6" y1="383.9" y2="383.9" stroke="#333" stroke-width="1.1"/>
<text x="40.0" y="387.1" font-size="8" fill="#4d4d4d" text-anchor="end">15000</text>
<line x1="42.6" x2="46.6" y1="346.1" y2="346.1" stroke="#333" stroke-width="1.1"/>
<text x="40.0" y="349.3" font-size="8" fill="#4d4d4d" text-anchor="end">20000</text>
<line x1="42.6" x2="46.6" y1="308.3" y2="308.3" stroke="#333" stroke-width="1.1"/>
<text x="40.0" y="311.5" font-size="8" fill="#4d4d4d" text-anchor="end">25000</text>
<line x1="42.6" x2="46.6" y1="270.5" y2="270.5" stroke="#333" stroke-width="1.1"/>
<text x="40.0" y="273.7" font-size="8" fill="#4d4d4d" text-anchor="end">30000</text>
<line x1="71.8" x2="71.8" y1="437.9" y2="441.9" stroke="#333" stroke-width="1.1"/>
<text x="71.8" y="450.7" font-size="8" fill="#4d4d4d" text-anchor="middle">T1</text>
<line x1="113.5" x2="113.5" y1="437.9" y2="441.9" stroke="#333" stroke-width="1.1"/>
<text x="113.5" y="450.7" font-size="8" fill="#4d4d4d" text-anchor="middle">T2</text>
<line x1="155.2" x2="155.2" y1="437.9" y2="441.9" stroke="#333" stroke-width="1.1"/>
<text x="155.2" y="450.7" font-size="8" fill="#4d4d4d" text-anchor="middle">T3</text>
<line x1="196.9" x2="196.9" y1="437.9" y2="441.9" stroke="#333" stroke-width="1.1"/>
<text x="196.9" y="450.7" font-size="8" fill="#4d4d4d" text-anchor="middle">T4</text>
<text transform="translate(13.1,337.8) rotate(-90)" text-anchor="middle" font-size="9.6" fill="#000">Mass, g</text>
<text x="0.3" y="241.9" font-size="15.8" font-weight="bold" fill="#000">d</text>
<path d="M292.6 257.7L337.3 257.0M292.6 273.5L337.3 267.2M292.6 289.7L337.3 291.0M292.6 294.4L337.3 291.2M292.6 294.6L337.3 297.8M292.6 299.7L337.3 337.6M292.6 299.9L337.3 349.2M292.6 323.6L337.3 309.1M292.6 327.4L337.3 313.3M292.6 335.9L337.3 325.3M292.6 336.1L337.3 325.5M292.6 338.9L337.3 340.1M292.6 342.4L337.3 343.1M292.6 348.1L337.3 349.4M292.6 349.6L337.3 351.8M292.6 352.7L337.3 357.4M292.6 355.6L337.3 359.8M292.6 357.5L337.3 361.4M292.6 362.2L337.3 364.6M292.6 362.4L337.3 369.1M292.6 364.1L337.3 396.4M292.6 377.4L337.3 396.6M292.6 381.6L337.3 396.8M292.6 389.0L337.3 399.9M292.6 394.8L337.3 405.0M292.6 402.5L337.3 405.2M292.6 405.6L337.3 412.6M292.6 406.9L337.3 418.1M292.6 419.3L337.3 428.3M337.3 257.0L381.9 248.5M337.3 267.2L381.9 253.7M337.3 291.0L381.9 281.3M337.3 291.2L381.9 303.2M337.3 297.8L381.9 356.2M337.3 309.1L381.9 293.4M337.3 313.3L381.9 314.0M337.3 325.3L381.9 322.6M337.3 325.5L381.9 331.7M337.3 337.6L381.9 334.5M337.3 340.1L381.9 336.8M337.3 343.1L381.9 340.6M337.3 349.2L381.9 344.5M337.3 349.4L381.9 344.7M337.3 351.8L381.9 356.4M337.3 357.4L381.9 359.2M337.3 359.8L381.9 361.6M337.3 361.4L381.9 365.5M337.3 364.6L381.9 365.7M337.3 369.1L381.9 378.3M337.3 396.4L381.9 371.1M337.3 396.6L381.9 383.9M337.3 396.8L381.9 394.3M337.3 399.9L381.9 396.7M337.3 405.0L381.9 399.0M337.3 405.2L381.9 403.3M337.3 412.6L381.9 416.9M337.3 418.1L381.9 421.6M337.3 428.3L381.9 425.4M381.9 248.5L426.3 245.0M381.9 253.7L426.3 246.7M381.9 293.4L426.3 301.6M381.9 303.2L426.3 311.6M381.9 331.7L426.3 323.6M381.9 334.5L426.3 340.5M381.9 336.8L426.3 342.9M381.9 340.6L426.3 349.9M381.9 344.5L426.3 353.7M381.9 356.2L426.3 345.2M381.9 359.2L426.3 353.7M381.9 361.6L426.3 360.3M381.9 365.5L426.3 360.3M381.9 371.1L426.3 366.9M381.9 378.3L426.3 360.3M381.9 383.9L426.3 366.9M381.9 381.1L426.3 375.4M381.9 394.3L426.3 385.8M381.9 396.7L426.3 389.5M381.9 399.0L426.3 391.4M381.9 399.0L426.3 397.1M381.9 403.3L426.3 422.1M381.9 416.9L426.3 410.6M381.9 421.6L426.3 414.1" fill="none" stroke="#666" stroke-opacity="0.45" stroke-width="1.05"/>
<g fill="#555" fill-opacity="0.3" stroke="#555" stroke-opacity="0.42" stroke-width="0.9"><circle cx="292.6" cy="257.7" r="2.0"/><circle cx="292.6" cy="273.5" r="2.0"/><circle cx="292.6" cy="289.7" r="2.0"/><circle cx="292.6" cy="294.4" r="2.0"/><circle cx="292.6" cy="294.6" r="2.0"/><circle cx="292.6" cy="299.7" r="2.0"/><circle cx="292.6" cy="299.9" r="2.0"/><circle cx="292.6" cy="323.6" r="2.0"/><circle cx="292.6" cy="327.4" r="2.0"/><circle cx="292.6" cy="335.9" r="2.0"/><circle cx="292.6" cy="336.1" r="2.0"/><circle cx="292.6" cy="338.9" r="2.0"/><circle cx="292.6" cy="342.4" r="2.0"/><circle cx="292.6" cy="348.1" r="2.0"/><circle cx="292.6" cy="349.6" r="2.0"/><circle cx="292.6" cy="352.7" r="2.0"/><circle cx="292.6" cy="355.6" r="2.0"/><circle cx="292.6" cy="357.5" r="2.0"/><circle cx="292.6" cy="362.2" r="2.0"/><circle cx="292.6" cy="362.4" r="2.0"/><circle cx="292.6" cy="364.1" r="2.0"/><circle cx="292.6" cy="377.4" r="2.0"/><circle cx="292.6" cy="381.6" r="2.0"/><circle cx="292.6" cy="389.0" r="2.0"/><circle cx="292.6" cy="394.8" r="2.0"/><circle cx="292.6" cy="402.5" r="2.0"/><circle cx="292.6" cy="405.6" r="2.0"/><circle cx="292.6" cy="406.9" r="2.0"/><circle cx="292.6" cy="419.3" r="2.0"/><circle cx="337.3" cy="257.0" r="2.0"/><circle cx="337.3" cy="267.2" r="2.0"/><circle cx="337.3" cy="291.0" r="2.0"/><circle cx="337.3" cy="291.2" r="2.0"/><circle cx="337.3" cy="297.8" r="2.0"/><circle cx="337.3" cy="309.1" r="2.0"/><circle cx="337.3" cy="313.3" r="2.0"/><circle cx="337.3" cy="325.3" r="2.0"/><circle cx="337.3" cy="325.5" r="2.0"/><circle cx="337.3" cy="337.6" r="2.0"/><circle cx="337.3" cy="340.1" r="2.0"/><circle cx="337.3" cy="343.1" r="2.0"/><circle cx="337.3" cy="349.2" r="2.0"/><circle cx="337.3" cy="349.4" r="2.0"/><circle cx="337.3" cy="351.8" r="2.0"/><circle cx="337.3" cy="357.4" r="2.0"/><circle cx="337.3" cy="359.8" r="2.0"/><circle cx="337.3" cy="361.4" r="2.0"/><circle cx="337.3" cy="364.6" r="2.0"/><circle cx="337.3" cy="369.1" r="2.0"/><circle cx="337.3" cy="369.3" r="2.0"/><circle cx="337.3" cy="396.4" r="2.0"/><circle cx="337.3" cy="396.6" r="2.0"/><circle cx="337.3" cy="396.8" r="2.0"/><circle cx="337.3" cy="399.9" r="2.0"/><circle cx="337.3" cy="405.0" r="2.0"/><circle cx="337.3" cy="405.2" r="2.0"/><circle cx="337.3" cy="412.6" r="2.0"/><circle cx="337.3" cy="418.1" r="2.0"/><circle cx="337.3" cy="428.3" r="2.0"/><circle cx="381.9" cy="248.5" r="2.0"/><circle cx="381.9" cy="253.7" r="2.0"/><circle cx="381.9" cy="281.3" r="2.0"/><circle cx="381.9" cy="293.4" r="2.0"/><circle cx="381.9" cy="303.2" r="2.0"/><circle cx="381.9" cy="314.0" r="2.0"/><circle cx="381.9" cy="322.6" r="2.0"/><circle cx="381.9" cy="331.7" r="2.0"/><circle cx="381.9" cy="334.5" r="2.0"/><circle cx="381.9" cy="336.8" r="2.0"/><circle cx="381.9" cy="340.6" r="2.0"/><circle cx="381.9" cy="344.5" r="2.0"/><circle cx="381.9" cy="344.7" r="2.0"/><circle cx="381.9" cy="356.2" r="2.0"/><circle cx="381.9" cy="356.4" r="2.0"/><circle cx="381.9" cy="359.2" r="2.0"/><circle cx="381.9" cy="361.6" r="2.0"/><circle cx="381.9" cy="365.5" r="2.0"/><circle cx="381.9" cy="365.7" r="2.0"/><circle cx="381.9" cy="371.1" r="2.0"/><circle cx="381.9" cy="378.3" r="2.0"/><circle cx="381.9" cy="381.1" r="2.0"/><circle cx="381.9" cy="383.9" r="2.0"/><circle cx="381.9" cy="394.3" r="2.0"/><circle cx="381.9" cy="396.7" r="2.0"/><circle cx="381.9" cy="399.0" r="2.0"/><circle cx="381.9" cy="399.0" r="2.0"/><circle cx="381.9" cy="403.3" r="2.0"/><circle cx="381.9" cy="416.9" r="2.0"/><circle cx="381.9" cy="421.6" r="2.0"/><circle cx="381.9" cy="425.4" r="2.0"/><circle cx="426.3" cy="245.0" r="2.0"/><circle cx="426.3" cy="246.7" r="2.0"/><circle cx="426.3" cy="301.6" r="2.0"/><circle cx="426.3" cy="311.6" r="2.0"/><circle cx="426.3" cy="323.6" r="2.0"/><circle cx="426.3" cy="340.5" r="2.0"/><circle cx="426.3" cy="342.9" r="2.0"/><circle cx="426.3" cy="345.2" r="2.0"/><circle cx="426.3" cy="349.9" r="2.0"/><circle cx="426.3" cy="353.7" r="2.0"/><circle cx="426.3" cy="353.7" r="2.0"/><circle cx="426.3" cy="360.3" r="2.0"/><circle cx="426.3" cy="360.3" r="2.0"/><circle cx="426.3" cy="360.3" r="2.0"/><circle cx="426.3" cy="366.9" r="2.0"/><circle cx="426.3" cy="366.9" r="2.0"/><circle cx="426.3" cy="375.4" r="2.0"/><circle cx="426.3" cy="385.8" r="2.0"/><circle cx="426.3" cy="389.5" r="2.0"/><circle cx="426.3" cy="391.4" r="2.0"/><circle cx="426.3" cy="397.1" r="2.0"/><circle cx="426.3" cy="410.6" r="2.0"/><circle cx="426.3" cy="414.1" r="2.0"/><circle cx="426.3" cy="422.1" r="2.0"/></g>
<rect x="281.5" y="318.8" width="22.2" height="41.3" fill="none" stroke="#000" stroke-width="1.3" stroke-linejoin="round"/>
<line x1="281.5" x2="303.7" y1="339.4" y2="339.4" stroke="#000" stroke-width="1.3"/>
<rect x="326.2" y="326.6" width="22.2" height="41.3" fill="none" stroke="#000" stroke-width="1.3" stroke-linejoin="round"/>
<line x1="326.2" x2="348.4" y1="347.3" y2="347.3" stroke="#000" stroke-width="1.3"/>
<rect x="370.8" y="327.5" width="22.2" height="41.1" fill="none" stroke="#000" stroke-width="1.3" stroke-linejoin="round"/>
<line x1="370.8" x2="393.0" y1="348.5" y2="348.5" stroke="#000" stroke-width="1.3"/>
<rect x="415.2" y="326.5" width="22.2" height="41.9" fill="none" stroke="#000" stroke-width="1.3" stroke-linejoin="round"/>
<line x1="415.2" x2="437.4" y1="347.6" y2="347.6" stroke="#000" stroke-width="1.3"/>
<path d="M266.0 237.0 V437.9 H452.6" fill="none" stroke="#1a1a1a" stroke-width="1.4" stroke-linecap="square" stroke-linejoin="miter"/>
<line x1="262.0" x2="266.0" y1="428.4" y2="428.4" stroke="#333" stroke-width="1.1"/>
<text x="259.4" y="431.6" font-size="8" fill="#4d4d4d" text-anchor="end">3</text>
<line x1="262.0" x2="266.0" y1="395.2" y2="395.2" stroke="#333" stroke-width="1.1"/>
<text x="259.4" y="398.4" font-size="8" fill="#4d4d4d" text-anchor="end">4</text>
<line x1="262.0" x2="266.0" y1="361.9" y2="361.9" stroke="#333" stroke-width="1.1"/>
<text x="259.4" y="365.1" font-size="8" fill="#4d4d4d" text-anchor="end">5</text>
<line x1="262.0" x2="266.0" y1="328.7" y2="328.7" stroke="#333" stroke-width="1.1"/>
<text x="259.4" y="331.9" font-size="8" fill="#4d4d4d" text-anchor="end">6</text>
<line x1="262.0" x2="266.0" y1="295.4" y2="295.4" stroke="#333" stroke-width="1.1"/>
<text x="259.4" y="298.6" font-size="8" fill="#4d4d4d" text-anchor="end">7</text>
<line x1="262.0" x2="266.0" y1="262.2" y2="262.2" stroke="#333" stroke-width="1.1"/>
<text x="259.4" y="265.4" font-size="8" fill="#4d4d4d" text-anchor="end">8</text>
<line x1="292.6" x2="292.6" y1="437.9" y2="441.9" stroke="#333" stroke-width="1.1"/>
<text x="292.6" y="450.7" font-size="8" fill="#4d4d4d" text-anchor="middle">T1</text>
<line x1="337.3" x2="337.3" y1="437.9" y2="441.9" stroke="#333" stroke-width="1.1"/>
<text x="337.3" y="450.7" font-size="8" fill="#4d4d4d" text-anchor="middle">T2</text>
<line x1="381.9" x2="381.9" y1="437.9" y2="441.9" stroke="#333" stroke-width="1.1"/>
<text x="381.9" y="450.7" font-size="8" fill="#4d4d4d" text-anchor="middle">T3</text>
<line x1="426.3" x2="426.3" y1="437.9" y2="441.9" stroke="#333" stroke-width="1.1"/>
<text x="426.3" y="450.7" font-size="8" fill="#4d4d4d" text-anchor="middle">T4</text>
<text transform="translate(247.6,337.8) rotate(-90)" text-anchor="middle" font-size="9.6" fill="#000">Scaled mass, kgm<tspan dy="-4" font-size="6.5">−2</tspan></text>
<text x="231.2" y="241.9" font-size="15.8" font-weight="bold" fill="#000">e</text>
<path d="M523.0 244.9L567.7 257.3M523.0 281.4L567.7 287.1M523.0 284.1L567.7 328.8M523.0 287.1L567.7 290.1M523.0 289.6L567.7 290.2M523.0 286.0L567.7 331.0M523.0 300.8L567.7 306.5M523.0 312.2L567.7 304.0M523.0 314.4L567.7 333.1M523.0 317.3L567.7 335.3M523.0 321.8L567.7 335.5M523.0 325.5L567.7 344.8M523.0 328.8L567.7 330.4M523.0 331.0L567.7 335.5M523.0 335.3L567.7 353.4M523.0 337.4L567.7 359.2M523.0 338.9L567.7 361.2M523.0 341.8L567.7 362.9M523.0 346.1L567.7 368.4M523.0 351.5L567.7 379.1M523.0 362.0L567.7 375.8M523.0 370.9L567.7 387.0M523.0 373.4L567.7 387.2M523.0 379.1L567.7 389.5M523.0 380.8L567.7 397.4M523.0 387.8L567.7 400.7M523.0 414.8L567.7 427.5M567.7 257.3L612.5 252.4M567.7 287.1L612.5 268.3M567.7 290.1L612.5 305.2M567.7 290.2L612.5 356.7M567.7 304.0L612.5 288.1M567.7 306.5L612.5 297.5M567.7 328.8L612.5 314.9M567.7 330.4L612.5 318.1M567.7 331.0L612.5 321.4M567.7 333.1L612.5 324.4M567.7 335.3L612.5 331.1M567.7 335.5L612.5 334.3M567.7 335.5L612.5 336.1M567.7 344.8L612.5 344.8M567.7 353.4L612.5 346.8M567.7 359.2L612.5 349.3M567.7 361.2L612.5 356.7M567.7 362.9L612.5 370.9M567.7 368.4L612.5 373.4M567.7 375.8L612.5 385.8M567.7 387.0L612.5 385.9M567.7 387.2L612.5 390.2M567.7 389.5L612.5 367.2M567.7 397.4L612.5 402.4M567.7 400.7L612.5 408.6M567.7 427.5L612.5 424.2M612.5 252.4L657.3 245.4M612.5 268.3L657.3 270.5M612.5 288.1L657.3 296.3M612.5 305.2L657.3 305.2M612.5 297.5L657.3 313.2M612.5 314.9L657.3 326.3M612.5 318.1L657.3 313.2M612.5 321.4L657.3 336.1M612.5 324.4L657.3 341.1M612.5 331.1L657.3 319.9M612.5 334.3L657.3 346.1M612.5 336.1L657.3 354.7M612.5 344.8L657.3 346.1M612.5 346.8L657.3 362.7M612.5 349.3L657.3 336.1M612.5 356.7L657.3 319.9M612.5 356.7L657.3 368.4M612.5 367.2L657.3 354.7M612.5 370.9L657.3 362.7M612.5 373.4L657.3 376.6M612.5 385.8L657.3 380.8M612.5 385.9L657.3 368.4M612.5 402.4L657.3 418.0M612.5 408.6L657.3 396.9M612.5 390.2L657.3 399.4" fill="none" stroke="#666" stroke-opacity="0.45" stroke-width="1.05"/>
<g fill="#555" fill-opacity="0.3" stroke="#555" stroke-opacity="0.42" stroke-width="0.9"><circle cx="523.0" cy="244.9" r="2.0"/><circle cx="523.0" cy="281.4" r="2.0"/><circle cx="523.0" cy="284.1" r="2.0"/><circle cx="523.0" cy="286.0" r="2.0"/><circle cx="523.0" cy="287.1" r="2.0"/><circle cx="523.0" cy="289.6" r="2.0"/><circle cx="523.0" cy="300.8" r="2.0"/><circle cx="523.0" cy="312.2" r="2.0"/><circle cx="523.0" cy="314.4" r="2.0"/><circle cx="523.0" cy="317.3" r="2.0"/><circle cx="523.0" cy="321.8" r="2.0"/><circle cx="523.0" cy="325.5" r="2.0"/><circle cx="523.0" cy="328.8" r="2.0"/><circle cx="523.0" cy="331.0" r="2.0"/><circle cx="523.0" cy="335.3" r="2.0"/><circle cx="523.0" cy="337.4" r="2.0"/><circle cx="523.0" cy="338.9" r="2.0"/><circle cx="523.0" cy="341.8" r="2.0"/><circle cx="523.0" cy="346.1" r="2.0"/><circle cx="523.0" cy="351.5" r="2.0"/><circle cx="523.0" cy="362.0" r="2.0"/><circle cx="523.0" cy="370.9" r="2.0"/><circle cx="523.0" cy="373.4" r="2.0"/><circle cx="523.0" cy="379.1" r="2.0"/><circle cx="523.0" cy="380.8" r="2.0"/><circle cx="523.0" cy="387.8" r="2.0"/><circle cx="523.0" cy="414.8" r="2.0"/><circle cx="567.7" cy="257.3" r="2.0"/><circle cx="567.7" cy="287.1" r="2.0"/><circle cx="567.7" cy="290.1" r="2.0"/><circle cx="567.7" cy="290.2" r="2.0"/><circle cx="567.7" cy="304.0" r="2.0"/><circle cx="567.7" cy="306.5" r="2.0"/><circle cx="567.7" cy="328.8" r="2.0"/><circle cx="567.7" cy="330.4" r="2.0"/><circle cx="567.7" cy="331.0" r="2.0"/><circle cx="567.7" cy="333.1" r="2.0"/><circle cx="567.7" cy="335.3" r="2.0"/><circle cx="567.7" cy="335.5" r="2.0"/><circle cx="567.7" cy="335.5" r="2.0"/><circle cx="567.7" cy="344.8" r="2.0"/><circle cx="567.7" cy="353.4" r="2.0"/><circle cx="567.7" cy="359.2" r="2.0"/><circle cx="567.7" cy="361.2" r="2.0"/><circle cx="567.7" cy="362.9" r="2.0"/><circle cx="567.7" cy="368.4" r="2.0"/><circle cx="567.7" cy="375.8" r="2.0"/><circle cx="567.7" cy="379.1" r="2.0"/><circle cx="567.7" cy="387.0" r="2.0"/><circle cx="567.7" cy="387.2" r="2.0"/><circle cx="567.7" cy="389.5" r="2.0"/><circle cx="567.7" cy="397.4" r="2.0"/><circle cx="567.7" cy="400.7" r="2.0"/><circle cx="567.7" cy="427.5" r="2.0"/><circle cx="612.5" cy="252.4" r="2.0"/><circle cx="612.5" cy="268.3" r="2.0"/><circle cx="612.5" cy="288.1" r="2.0"/><circle cx="612.5" cy="297.5" r="2.0"/><circle cx="612.5" cy="305.2" r="2.0"/><circle cx="612.5" cy="314.9" r="2.0"/><circle cx="612.5" cy="318.1" r="2.0"/><circle cx="612.5" cy="321.4" r="2.0"/><circle cx="612.5" cy="324.4" r="2.0"/><circle cx="612.5" cy="331.1" r="2.0"/><circle cx="612.5" cy="334.3" r="2.0"/><circle cx="612.5" cy="336.1" r="2.0"/><circle cx="612.5" cy="344.8" r="2.0"/><circle cx="612.5" cy="346.8" r="2.0"/><circle cx="612.5" cy="349.3" r="2.0"/><circle cx="612.5" cy="356.7" r="2.0"/><circle cx="612.5" cy="356.7" r="2.0"/><circle cx="612.5" cy="367.2" r="2.0"/><circle cx="612.5" cy="370.9" r="2.0"/><circle cx="612.5" cy="373.4" r="2.0"/><circle cx="612.5" cy="385.8" r="2.0"/><circle cx="612.5" cy="385.9" r="2.0"/><circle cx="612.5" cy="390.2" r="2.0"/><circle cx="612.5" cy="402.4" r="2.0"/><circle cx="612.5" cy="408.6" r="2.0"/><circle cx="612.5" cy="424.2" r="2.0"/><circle cx="657.3" cy="245.4" r="2.0"/><circle cx="657.3" cy="270.5" r="2.0"/><circle cx="657.3" cy="296.3" r="2.0"/><circle cx="657.3" cy="305.2" r="2.0"/><circle cx="657.3" cy="313.2" r="2.0"/><circle cx="657.3" cy="313.2" r="2.0"/><circle cx="657.3" cy="319.9" r="2.0"/><circle cx="657.3" cy="319.9" r="2.0"/><circle cx="657.3" cy="326.3" r="2.0"/><circle cx="657.3" cy="336.1" r="2.0"/><circle cx="657.3" cy="336.1" r="2.0"/><circle cx="657.3" cy="341.1" r="2.0"/><circle cx="657.3" cy="346.1" r="2.0"/><circle cx="657.3" cy="346.1" r="2.0"/><circle cx="657.3" cy="354.7" r="2.0"/><circle cx="657.3" cy="354.7" r="2.0"/><circle cx="657.3" cy="362.7" r="2.0"/><circle cx="657.3" cy="362.7" r="2.0"/><circle cx="657.3" cy="368.4" r="2.0"/><circle cx="657.3" cy="368.4" r="2.0"/><circle cx="657.3" cy="376.6" r="2.0"/><circle cx="657.3" cy="380.8" r="2.0"/><circle cx="657.3" cy="396.9" r="2.0"/><circle cx="657.3" cy="399.4" r="2.0"/><circle cx="657.3" cy="418.0" r="2.0"/></g>
<rect x="511.8" y="308.0" width="22.4" height="36.0" fill="none" stroke="#000" stroke-width="1.3" stroke-linejoin="round"/>
<line x1="511.8" x2="534.2" y1="326.3" y2="326.3" stroke="#000" stroke-width="1.3"/>
<rect x="556.5" y="320.8" width="22.4" height="35.5" fill="none" stroke="#000" stroke-width="1.3" stroke-linejoin="round"/>
<line x1="556.5" x2="578.9" y1="338.6" y2="338.6" stroke="#000" stroke-width="1.3"/>
<rect x="601.3" y="322.5" width="22.4" height="36.0" fill="none" stroke="#000" stroke-width="1.3" stroke-linejoin="round"/>
<line x1="601.3" x2="623.7" y1="341.1" y2="341.1" stroke="#000" stroke-width="1.3"/>
<rect x="646.1" y="320.6" width="22.4" height="36.6" fill="none" stroke="#000" stroke-width="1.3" stroke-linejoin="round"/>
<line x1="646.1" x2="668.5" y1="338.6" y2="338.6" stroke="#000" stroke-width="1.3"/>
<path d="M496.3 237.0 V437.9 H684.5" fill="none" stroke="#1a1a1a" stroke-width="1.4" stroke-linecap="square" stroke-linejoin="miter"/>
<line x1="492.3" x2="496.3" y1="413.6" y2="413.6" stroke="#333" stroke-width="1.1"/>
<text x="489.7" y="416.8" font-size="8" fill="#4d4d4d" text-anchor="end">15</text>
<line x1="492.3" x2="496.3" y1="367.6" y2="367.6" stroke="#333" stroke-width="1.1"/>
<text x="489.7" y="370.8" font-size="8" fill="#4d4d4d" text-anchor="end">20</text>
<line x1="492.3" x2="496.3" y1="321.5" y2="321.5" stroke="#333" stroke-width="1.1"/>
<text x="489.7" y="324.7" font-size="8" fill="#4d4d4d" text-anchor="end">25</text>
<line x1="492.3" x2="496.3" y1="275.5" y2="275.5" stroke="#333" stroke-width="1.1"/>
<text x="489.7" y="278.7" font-size="8" fill="#4d4d4d" text-anchor="end">30</text>
<line x1="523.0" x2="523.0" y1="437.9" y2="441.9" stroke="#333" stroke-width="1.1"/>
<text x="523.0" y="450.7" font-size="8" fill="#4d4d4d" text-anchor="middle">T1</text>
<line x1="567.7" x2="567.7" y1="437.9" y2="441.9" stroke="#333" stroke-width="1.1"/>
<text x="567.7" y="450.7" font-size="8" fill="#4d4d4d" text-anchor="middle">T2</text>
<line x1="612.5" x2="612.5" y1="437.9" y2="441.9" stroke="#333" stroke-width="1.1"/>
<text x="612.5" y="450.7" font-size="8" fill="#4d4d4d" text-anchor="middle">T3</text>
<line x1="657.3" x2="657.3" y1="437.9" y2="441.9" stroke="#333" stroke-width="1.1"/>
<text x="657.3" y="450.7" font-size="8" fill="#4d4d4d" text-anchor="middle">T4</text>
<text transform="translate(475.6,337.8) rotate(-90)" text-anchor="middle" font-size="9.6" fill="#000">Percent of total mass, %</text>
<text x="462.0" y="241.9" font-size="15.8" font-weight="bold" fill="#000">f</text>
</svg></body></html>
